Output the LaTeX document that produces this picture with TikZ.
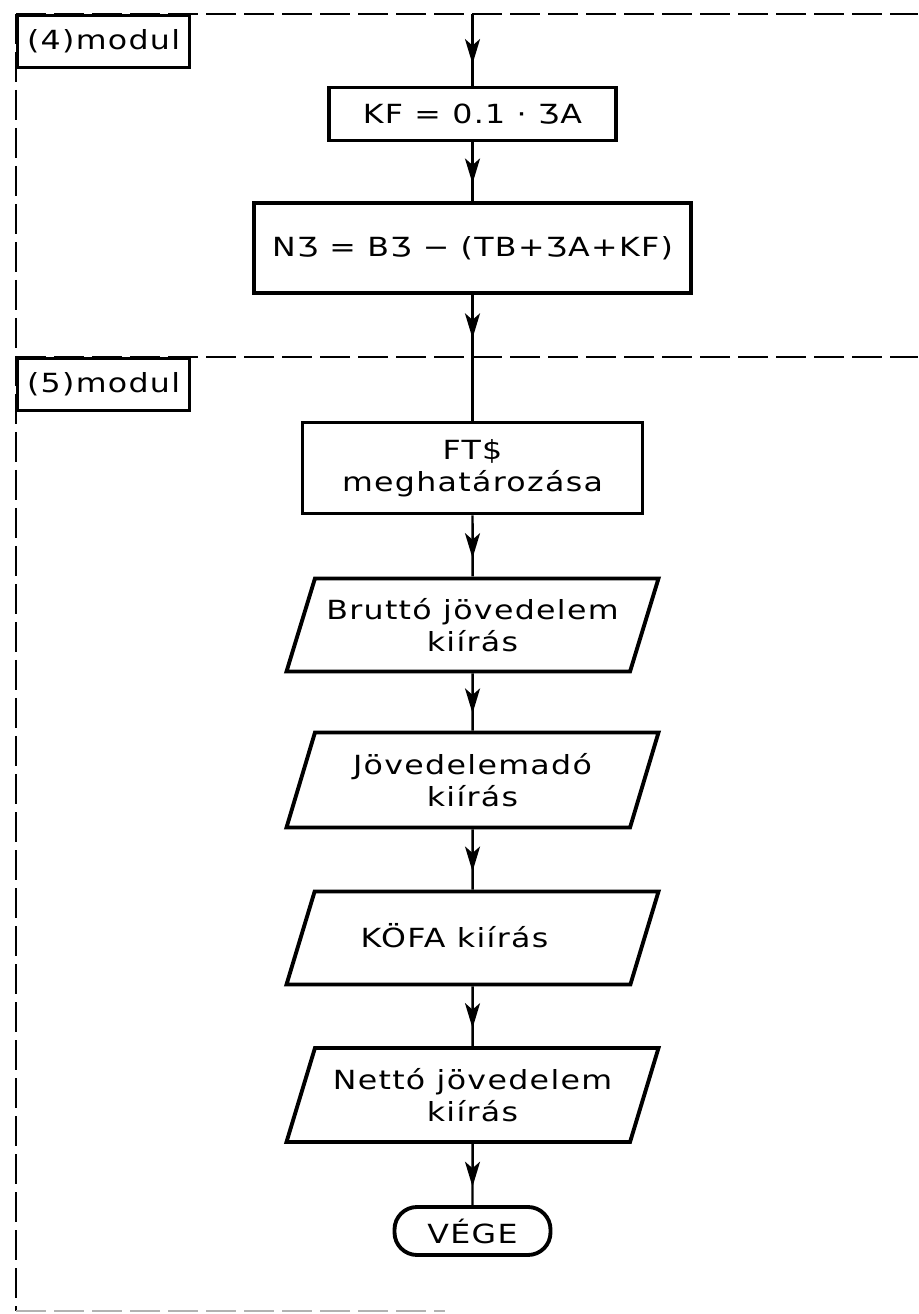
\documentclass[tikz,border=0pt]{standalone}
\usepackage{fontspec}
\setmainfont{DejaVu Sans}[FakeStretch=1.2,LetterSpace=5]
\usetikzlibrary{arrows.meta,shapes.geometric,decorations.markings}

\begin{document}
\begin{tikzpicture}[
    box/.style={draw, line width=2.2pt, align=center, font=\fontsize{15}{18}\selectfont, inner sep=2pt},
    io/.style={box, trapezium, trapezium left angle=73, trapezium right angle=107, trapezium stretches body, inner ysep=0.4cm},
    endbox/.style={box, rounded corners=0.45cm},
    modlabel/.style={draw, line width=1.8pt, anchor=north west, minimum width=3.44cm, minimum height=1.04cm, font=\fontsize{15}{18}\selectfont, inner sep=2pt},
    frame/.style={line width=1.6pt, dash pattern=on 0.6cm off 0.16cm},
    flow/.style={line width=1.4pt, postaction={decorate}, decoration={markings, mark=at position 0.7 with {\arrow{Stealth[length=0.5cm,width=0.3cm,inset=0.13cm]}}}}
]
\useasboundingbox (0,0) rectangle (18.36,26.28);

\draw[frame] (0.32,26.0) -- (18.36,26.0);
\draw[frame] (0.32,19.14) -- (18.36,19.14);
\draw[frame] (0.32,26.0) -- (0.32,0.06);
\draw[frame, black!30] (0.32,0.06) -- (8.9,0.06);

\node[modlabel] (m4) at (0.32,26.0) {(4)modul};
\node[modlabel] (m5) at (0.32,19.14) {(5)modul};

\coordinate (in4) at (9.45,26.0);
\coordinate (in5) at (9.45,19.14);

\node[box, minimum width=5.74cm, minimum height=1.06cm] (kf) at (9.45,24.0) {KF = 0.1 · ƷA};
\node[box, minimum width=8.74cm, minimum height=1.8cm] (nj) at (9.45,21.32) {NƷ = BƷ − (TB+ƷA+KF)};
\node[box, minimum width=6.8cm, minimum height=1.82cm] (fts) at (9.45,16.92) {FT\$\\meghatározása};
\node[io, minimum width=7.44cm, minimum height=1.86cm] (brutto) at (9.45,13.78) {Bruttó jövedelem\\kiírás};
\node[io, minimum width=7.44cm, minimum height=1.9cm] (jado) at (9.45,10.68) {Jövedelemadó\\kiírás};
\node[io, minimum width=7.44cm, minimum height=1.86cm] (kofa) at (9.45,7.52) {\rule[-0.33cm]{0pt}{1.04cm}KÖFA kiírás\hspace*{0.72cm}};
\node[io, minimum width=7.44cm, minimum height=1.88cm] (netto) at (9.45,4.38) {Nettó jövedelem\\kiírás};
\node[endbox, minimum width=3.12cm, minimum height=0.96cm] (vege) at (9.45,1.66) {VÉGE};

\draw[flow] (in4) -- (kf);
\draw[flow] (kf) -- (nj);
\draw[flow] (nj) -- (in5);
\draw[line width=1.4pt] (in5) -- (fts);
\draw[flow] (fts) -- (brutto);
\draw[flow] (brutto) -- (jado);
\draw[flow] (jado) -- (kofa);
\draw[flow] (kofa) -- (netto);
\draw[flow] (netto) -- (vege);
\end{tikzpicture}
\end{document}
